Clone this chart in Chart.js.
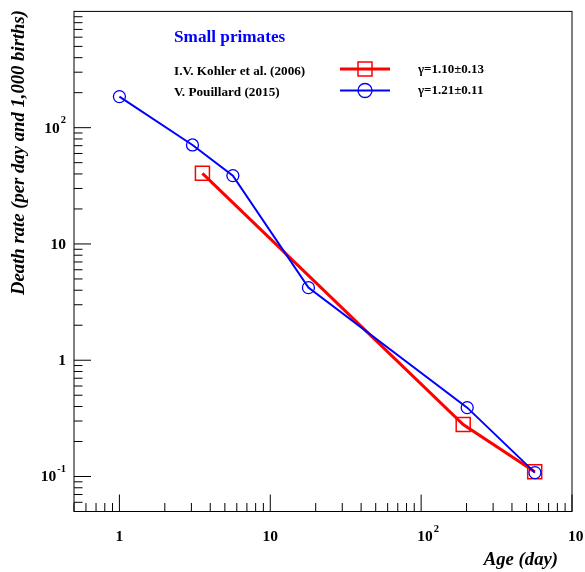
<!DOCTYPE html>
<html>
<head>
<meta charset="utf-8">
<script src="https://cdn.jsdelivr.net/npm/chart.js@4/dist/chart.umd.min.js"></script>
<style>
  html, body { margin: 0; padding: 0; background: #fff; }
  #wrap { width: 585px; height: 572px; position: relative; }
</style>
</head>
<body>
<div id="wrap"><canvas id="chart"></canvas></div>
<script>
// ---- data ----
const kohlerAge   = [3.55, 190, 566];
const kohlerRate  = [40.5, 0.28, 0.11];
const pouillardAge  = [1, 3.05, 5.65, 17.9, 202, 568];
const pouillardRate = [185, 71, 38.7, 4.21, 0.391, 0.108];

const legendLabels = ['I.V. Kohler et al. (2006)', 'V. Pouillard (2015)'];
const legendGammas = ['\u03b3=1.10\u00b10.13', '\u03b3=1.21\u00b10.11'];

// tick values; majors get a label [base, exponent]
const xMajor = [1, 10, 100, 1000];
const xMajorLabels = [['1', ''], ['10', ''], ['10', '2'], ['10', '3']];
const yMajor = [0.1, 1, 10, 100];
const yMajorLabels = [['10', '-1'], ['1', ''], ['10', ''], ['10', '2']];

const SERIF = '"Liberation Serif", "DejaVu Serif", serif';

function minorTicks(lo, hi) {
  const out = [];
  for (let dec = 1e-3; dec <= 1e3; dec *= 10) {
    for (let m = 2; m <= 9; m++) {
      const v = +(m * dec).toPrecision(3);
      if (v >= lo && v <= hi) out.push(v);
    }
  }
  return out;
}

// ROOT-like frame, inward ticks and labels with superscripts
const frameAxes = {
  id: 'frameAxes',
  afterDraw(chart) {
    const { ctx, chartArea: a, scales } = chart;
    const xs = scales.x, ys = scales.y;
    ctx.save();

    ctx.strokeStyle = '#000';
    ctx.lineWidth = 1;
    ctx.strokeRect(a.left, a.top, a.right - a.left, a.bottom - a.top);

    ctx.beginPath();
    minorTicks(xs.min, xs.max).forEach(v => {
      const px = xs.getPixelForValue(v);
      ctx.moveTo(px, a.bottom); ctx.lineTo(px, a.bottom - 8.5);
    });
    xMajor.forEach(v => {
      const px = xs.getPixelForValue(v);
      ctx.moveTo(px, a.bottom); ctx.lineTo(px, a.bottom - 17);
    });
    minorTicks(ys.min, ys.max).forEach(v => {
      const py = ys.getPixelForValue(v);
      ctx.moveTo(a.left, py); ctx.lineTo(a.left + 8.5, py);
    });
    yMajor.forEach(v => {
      const py = ys.getPixelForValue(v);
      ctx.moveTo(a.left, py); ctx.lineTo(a.left + 17, py);
    });
    ctx.stroke();

    const big = 'bold 15.5px ' + SERIF;
    const small = 'bold 10.5px ' + SERIF;
    ctx.fillStyle = '#000';
    ctx.textBaseline = 'middle';

    // x labels
    xMajor.forEach((v, i) => {
      const px = xs.getPixelForValue(v);
      const [base, exp] = xMajorLabels[i];
      ctx.font = big;
      const bw = ctx.measureText(base).width;
      const left = exp ? px - 4 : px - bw / 2;
      ctx.textAlign = 'left';
      ctx.fillText(base, left, 537);
      if (exp) {
        ctx.font = small;
        ctx.fillText(exp, left + bw + 1, 529);
      }
    });

    // y labels, right aligned
    yMajor.forEach((v, i) => {
      const py = ys.getPixelForValue(v);
      const [base, exp] = yMajorLabels[i];
      ctx.font = small;
      const ew = exp ? ctx.measureText(exp).width + 1 : 0;
      const right = 66;
      ctx.font = big;
      ctx.textAlign = 'right';
      ctx.fillText(base, right - ew, py + 1);
      if (exp) {
        ctx.font = small;
        ctx.textAlign = 'left';
        ctx.fillText(exp, right - ew + 1, py - 7);
      }
    });

    // axis titles
    ctx.font = 'bold italic 18.7px ' + SERIF;
    ctx.textAlign = 'right';
    ctx.fillText('Age (day)', 558, 560);
    ctx.save();
    ctx.translate(19, 10);
    ctx.rotate(-Math.PI / 2);
    ctx.textAlign = 'right';
    ctx.fillText('Death rate (per day and 1,000 births)', 0, 0);
    ctx.restore();

    // legend
    ctx.textAlign = 'left';
    ctx.fillStyle = '#0000ff';
    ctx.font = 'bold 17.2px ' + SERIF;
    ctx.fillText('Small primates', 174, 38);

    const rows = [71.5, 93];
    chart.data.datasets.forEach((ds, i) => {
      const y = rows[i];
      ctx.fillStyle = '#000';
      ctx.font = 'bold 13.2px ' + SERIF;
      ctx.fillText(legendLabels[i], 174, y);
      ctx.font = 'bold 13px ' + SERIF;
      ctx.fillText(legendGammas[i], 418, y - 2);

      const ly = y - 2.5;
      ctx.strokeStyle = ds.borderColor;
      ctx.lineWidth = ds.borderWidth;
      ctx.beginPath();
      ctx.moveTo(340, ly); ctx.lineTo(390, ly);
      ctx.stroke();
      ctx.lineWidth = ds.pointBorderWidth;
      ctx.beginPath();
      if (ds.pointStyle === 'rect') {
        ctx.rect(365 - 7, ly - 7, 14, 14);
      } else {
        ctx.arc(365, ly, 7, 0, Math.PI * 2);
      }
      ctx.stroke();
    });

    ctx.restore();
  }
};

const toPoints = (xs, ys) => xs.map((x, i) => ({ x, y: ys[i] }));

new Chart(document.getElementById('chart'), {
  type: 'line',
  data: {
    datasets: [
      {
        label: legendLabels[0],
        data: toPoints(kohlerAge, kohlerRate),
        borderColor: '#ff0000',
        borderWidth: 3,
        pointStyle: 'rect',
        pointRadius: 9.9,
        pointBorderColor: '#ff0000',
        pointBorderWidth: 1.5,
        pointBackgroundColor: 'rgba(0,0,0,0)',
        tension: 0,
        order: 2
      },
      {
        label: legendLabels[1],
        data: toPoints(pouillardAge, pouillardRate),
        borderColor: '#0000ff',
        borderWidth: 2,
        pointStyle: 'circle',
        pointRadius: 6,
        pointBorderColor: '#0000ff',
        pointBorderWidth: 1.3,
        pointBackgroundColor: 'rgba(0,0,0,0)',
        tension: 0,
        order: 1
      }
    ]
  },
  options: {
    responsive: true,
    maintainAspectRatio: false,
    animation: false,
    layout: { padding: { left: 74, top: 9, right: 13, bottom: 60.5 } },
    scales: {
      x: { type: 'logarithmic', min: 0.5, max: 1000, display: false },
      y: { type: 'logarithmic', min: 0.05, max: 1000, display: false }
    },
    plugins: {
      legend: { display: false },
      tooltip: { enabled: false }
    }
  },
  plugins: [frameAxes]
});
</script>
</body>
</html>
